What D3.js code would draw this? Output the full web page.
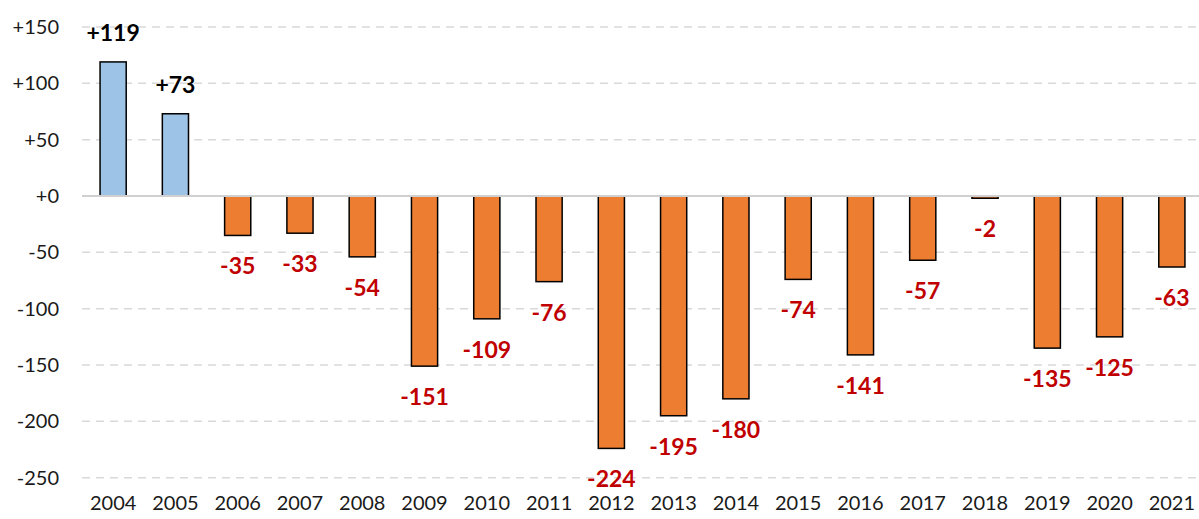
<!DOCTYPE html>
<html>
<head>
<meta charset="utf-8">
<script src="https://cdn.jsdelivr.net/npm/d3@7"></script>
<style>
  body { margin: 0; background: #fff; }
  svg text { font-family: Lato, "Open Sans", sans-serif; }
</style>
</head>
<body>
<svg id="chart" width="1199" height="519"></svg>
<script>
// data
var years = ["2004","2005","2006","2007","2008","2009","2010","2011","2012",
             "2013","2014","2015","2016","2017","2018","2019","2020","2021"];
var balance = [119, 73, -35, -33, -54, -151, -109, -76, -224,
               -195, -180, -74, -141, -57, -2, -135, -125, -63];
var yTicks = [150, 100, 50, 0, -50, -100, -150, -200, -250];

var svg = d3.select('#chart');

var x = d3.scaleBand()
    .domain(years)
    .range([82, 1203])
    .paddingInner(0.58)
    .paddingOuter(0.29);

var y = d3.scaleLinear()
    .domain([-250, 150])
    .range([477.7, 27]);

var fmt = function(v){ return v > 0 ? "+" + v : (v == 0 ? "+0" : String(v)); };

// grid lines (dashed), zero line solid
svg.append('g').selectAll('line')
    .data(yTicks.filter(function(d){ return d != 0; }))
    .enter().append('line')
    .attr('x1', 82).attr('x2', 1199)
    .attr('y1', function(d){ return y(d); })
    .attr('y2', function(d){ return y(d); })
    .attr('stroke', '#d9d9d9')
    .attr('stroke-width', 1.5)
    .attr('stroke-dasharray', '8,6');

// y axis labels
var yAxis = d3.axisLeft(y).tickValues(yTicks).tickFormat(fmt).tickSize(0).tickPadding(0);
var ya = svg.append('g').attr('transform', 'translate(59,0)').call(yAxis);
ya.select('.domain').remove();
ya.selectAll('text')
    .attr('font-size', 20)
    .attr('fill', '#1a1a1a')
    .style('font-family', 'Lato, sans-serif');

// bars
svg.append('g').selectAll('rect')
    .data(balance)
    .enter().append('rect')
    .attr('x', function(d, i){ return x(years[i]); })
    .attr('width', x.bandwidth())
    .attr('y', function(d){ return d > 0 ? y(d) : y(0); })
    .attr('height', function(d){ return Math.abs(y(d) - y(0)); })
    .attr('fill', function(d){ return d > 0 ? '#9dc3e6' : '#ed7d31'; })
    .attr('stroke', '#000')
    .attr('stroke-width', 1.5);

// zero line
svg.append('line')
    .attr('x1', 82).attr('x2', 1199)
    .attr('y1', y(0)).attr('y2', y(0))
    .attr('stroke', '#d0d0d0')
    .attr('stroke-width', 2);

// value labels
svg.append('g').selectAll('text')
    .data(balance)
    .enter().append('text')
    .attr('x', function(d, i){ return x(years[i]) + x.bandwidth() / 2; })
    .attr('y', function(d){ return d > 0 ? y(d) - 21 : y(d) + 39; })
    .attr('text-anchor', 'middle')
    .attr('font-size', 23)
    .attr('font-weight', 'bold')
    .attr('fill', function(d){ return d > 0 ? '#000' : '#c00000'; })
    .text(fmt);

// x axis labels
var xAxis = d3.axisBottom(x).tickSize(0).tickPadding(0);
var xa = svg.append('g').attr('transform', 'translate(0,496)').call(xAxis);
xa.select('.domain').remove();
xa.selectAll('text')
    .attr('font-size', 20)
    .attr('fill', '#1a1a1a')
    .style('font-family', 'Lato, sans-serif');
</script>
</body>
</html>
